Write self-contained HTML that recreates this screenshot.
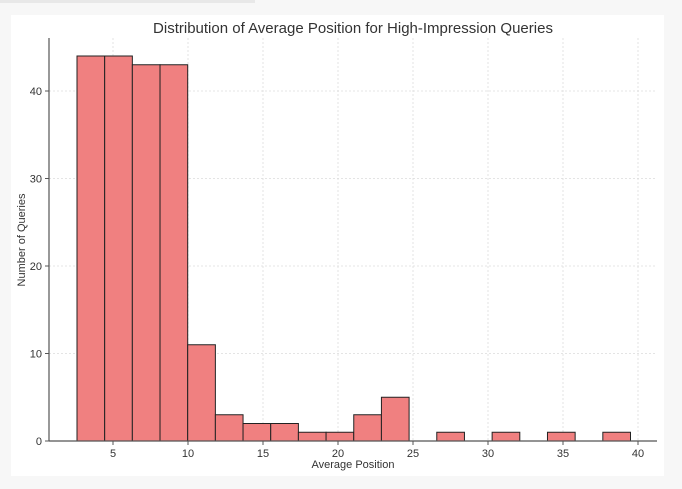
<!DOCTYPE html>
<html><head><meta charset="utf-8"><style>
body{margin:0;width:682px;height:489px;background:#f7f7f7;overflow:hidden;font-family:"Liberation Sans","DejaVu Sans",sans-serif}
#topbar{position:absolute;left:0;top:0;width:255px;height:3px;background:#e8e8e8}
#card{position:absolute;left:11px;top:15px;width:653px;height:461px;background:#fff}
svg{position:absolute;left:0;top:0}
</style></head><body>
<div id="topbar"></div>
<div id="card"></div>
<svg id="chart" width="682" height="489"></svg>
<script>
const binStart = 2.6;
const binWidth = 1.845;
const counts = [44,44,43,43,11,3,2,2,1,1,3,5,0,1,0,1,0,1,0,1];
const xTicks = [5,10,15,20,25,30,35,40];
const yTicks = [0,10,20,30,40];

const svg = document.getElementById('chart');
const NS = 'http://www.w3.org/2000/svg';
const X0 = 38, XS = 15; // px at value 0, px per unit
const Y0 = 441, YS = 8.75;
const xs = v => X0 + v * XS;
const ys = v => Y0 - v * YS;
function mk(tag, attrs){const e=document.createElementNS(NS,tag);for(const k in attrs)e.setAttribute(k,attrs[k]);svg.appendChild(e);return e;}

for (const t of xTicks){
  const g = mk('line',{x1:xs(t),x2:xs(t),y1:38,y2:Y0,stroke:'#dcdcdc','stroke-dasharray':'2,2','stroke-width':0.8});
  
  
  const tk = mk('line',{x1:xs(t),x2:xs(t),y1:Y0,y2:Y0+4,stroke:'#555'});
  
  
  const l = mk('text',{x:xs(t),y:Y0+16,'text-anchor':'middle','font-size':11,fill:'#333'});
  l.textContent = t;
  
  
}
for (const t of yTicks){
  const g = mk('line',{x1:49,x2:657,y1:ys(t),y2:ys(t),stroke:'#dcdcdc','stroke-dasharray':'2,2','stroke-width':0.8});
  
  
  const tk = mk('line',{x1:45,x2:49,y1:ys(t),y2:ys(t),stroke:'#555'});
  
  
  const l = mk('text',{x:42,y:ys(t)+4,'text-anchor':'end','font-size':11,fill:'#333'});
  l.textContent = t;
  
  
}
counts.forEach((c,i)=>{
  if (c<=0) return;
  const x1 = xs(binStart + i*binWidth), x2 = xs(binStart + (i+1)*binWidth);
  const r = mk('rect',{x:x1,y:ys(c),width:x2-x1,height:Y0-ys(c),fill:'#f08080',stroke:'#222','stroke-width':1});
  
  
});
const ax = mk('line',{x1:49,x2:49,y1:38,y2:Y0,stroke:'#555','stroke-width':1.2});


const bx = mk('line',{x1:49,x2:657,y1:Y0,y2:Y0,stroke:'#555','stroke-width':1.2});


const title = mk('text',{x:353,y:33,'text-anchor':'middle','font-size':15,fill:'#333'});
title.textContent='Distribution of Average Position for High-Impression Queries';


const xt = mk('text',{x:353,y:468,'text-anchor':'middle','font-size':11,fill:'#333'});
xt.textContent='Average Position';


const yt = mk('text',{x:0,y:0,'text-anchor':'middle','font-size':11,fill:'#333',transform:'translate(25,240) rotate(-90)'});
yt.textContent='Number of Queries';


</script>
</body></html>
